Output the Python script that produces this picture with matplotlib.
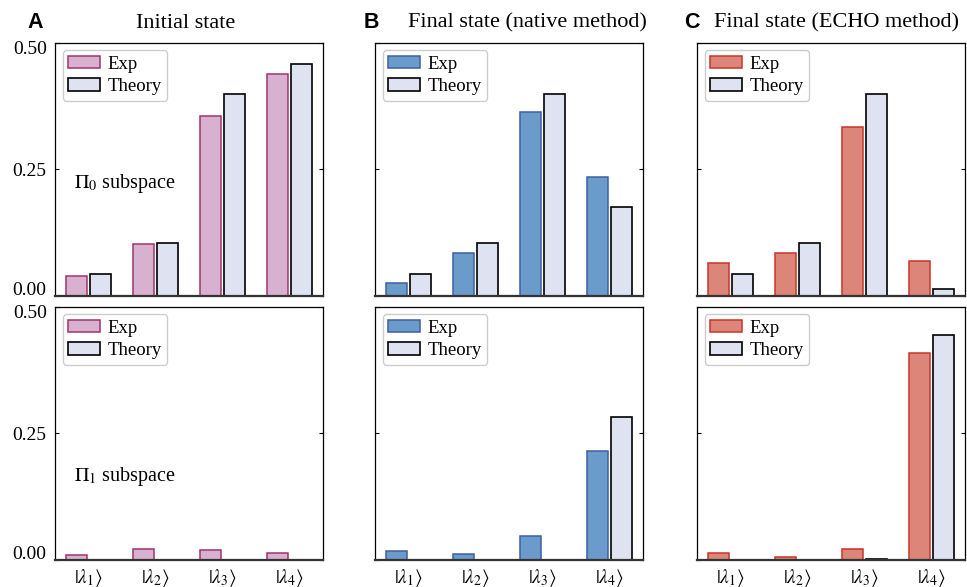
import matplotlib
matplotlib.use("Agg")
import matplotlib.pyplot as plt
import matplotlib.transforms as mtransforms
import numpy as np

plt.rcParams['font.family'] = ['Liberation Serif', 'DejaVu Serif']
plt.rcParams['mathtext.fontset'] = 'stix'

states = [r'$|\lambda_1\rangle$', r'$|\lambda_2\rangle$', r'$|\lambda_3\rangle$', r'$|\lambda_4\rangle$']
titles = ['Initial state', 'Final state (native method)', 'Final state (ECHO method)']
letters = ['A', 'B', 'C']
subspace_labels = [r'$\Pi_0$ subspace', r'$\Pi_1$ subspace']

# Pi_0 subspace (top row)
exp_init_p0 = [0.039, 0.103, 0.356, 0.437]
exp_native_p0 = [0.026, 0.084, 0.362, 0.234]
exp_echo_p0 = [0.066, 0.084, 0.333, 0.069]
theory_init_p0 = [0.044, 0.104, 0.398, 0.458]
theory_final_p0 = [0.044, 0.104, 0.398, 0.175]
theory_echo_p0 = [0.044, 0.104, 0.398, 0.0145]

# Pi_1 subspace (bottom row)
exp_init_p1 = [0.0105, 0.021, 0.020, 0.013]
exp_native_p1 = [0.018, 0.012, 0.047, 0.215]
exp_echo_p1 = [0.014, 0.005, 0.022, 0.408]
theory_init_p1 = [0.0, 0.0, 0.0, 0.0]
theory_native_p1 = [0.0, 0.0, 0.0, 0.282]
theory_echo_p1 = [0.0, 0.0, 0.001, 0.443]

exp_rows = [[exp_init_p0, exp_native_p0, exp_echo_p0],
            [exp_init_p1, exp_native_p1, exp_echo_p1]]
theory_rows = [[theory_init_p0, theory_final_p0, theory_echo_p0],
               [theory_init_p1, theory_native_p1, theory_echo_p1]]

exp_fill = ['#d8b1d1', '#6b9bcb', '#dc8579']
exp_edge = ['#a3336f', '#3f5fa0', '#cc3329']
theory_fill = '#dfe3f1'

W, H = 967, 587
fig = plt.figure(figsize=(W / 100, H / 100), dpi=100)

lefts = [55, 375, 697]
tops = [42.5, 306.5]
aw, ah = 268, 253.5

x = np.arange(4)
off, bw = 0.178, 0.305

for r in range(2):
    for c in range(3):
        ax = fig.add_axes([lefts[c] / W, 1 - (tops[r] + ah) / H, aw / W, ah / H])
        ax.bar(x - off, exp_rows[r][c], bw, color=exp_fill[c], edgecolor=exp_edge[c],
               linewidth=1.1, label='Exp', zorder=2)
        ax.bar(x + off, theory_rows[r][c], bw, color=theory_fill, edgecolor='black',
               linewidth=1.2, label='Theory', zorder=2)
        ax.set_xlim(-0.5, 3.5)
        ax.set_ylim(0, 0.5)
        ax.set_yticks([0, 0.25, 0.5])
        ax.tick_params(axis='y', direction='in', left=True, right=True, length=3,
                       width=0.8, labelsize=14, pad=6)
        ax.tick_params(axis='x', length=0, labelsize=14, pad=5)
        if r == 1:
            ax.set_xticks(x)
            ax.set_xticklabels(states)
        else:
            ax.set_xticks([])
        if c == 0:
            ax.set_yticklabels(['0.00', '0.25', '0.50'])
            labs = ax.get_yticklabels()
            labs[0].set_transform(labs[0].get_transform() +
                                  mtransforms.ScaledTranslation(0, 7.5 / 100, fig.dpi_scale_trans))
            labs[2].set_transform(labs[2].get_transform() +
                                  mtransforms.ScaledTranslation(0, -5.5 / 100, fig.dpi_scale_trans))
            ax.text(-0.22, 0.222 if r == 0 else 0.165, subspace_labels[r], fontsize=14.5,
                    va='center', ha='left')
        else:
            ax.set_yticklabels([])
        for s in ax.spines.values():
            s.set_linewidth(0.9)
        ax.spines['bottom'].set_linewidth(1.6)
        ax.spines['bottom'].set_color('#333333')
        ax.legend(loc='upper left', fontsize=13.5, frameon=True, fancybox=True,
                  edgecolor='#cccccc', framealpha=1, handlelength=1.7, handleheight=0.64,
                  handletextpad=0.4, labelspacing=0.3, borderpad=0.3,
                  borderaxespad=0.4)

title_x = [186, 527, 837]
letter_x = [35, 371, 692]
for c in range(3):
    fig.text(title_x[c] / W, 1 - 23 / H, titles[c], fontsize=16, ha='center', va='center')
    fig.text(letter_x[c] / W, 1 - 22 / H, letters[c], fontsize=15.5, fontweight='bold',
             family='Liberation Sans', ha='center', va='center')

fig.savefig('out.png', dpi=100)
